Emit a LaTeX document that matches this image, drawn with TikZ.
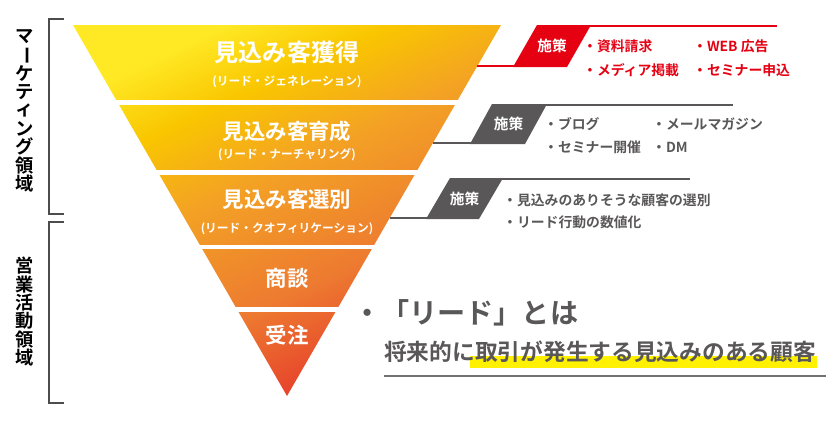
\documentclass[tikz,border=0pt]{standalone}
\usepackage{fontspec}
\setmainfont{Noto Sans CJK JP}[BoldFont={* Bold}]
\definecolor{fYellow}{HTML}{FFE925}
\definecolor{fGold}{HTML}{F9C600}
\definecolor{fAmber}{HTML}{F3A125}
\definecolor{fOrange}{HTML}{ED7A30}
\definecolor{fRed}{HTML}{E5332A}
\definecolor{sakuRed}{HTML}{E50012}
\definecolor{sakuGray}{HTML}{595757}
\definecolor{lineGray}{HTML}{727171}
\definecolor{markYellow}{HTML}{FFF100}
\pgfdeclareverticalshading{funnel}{100bp}{color(0bp)=(fRed); color(25bp)=(fRed); color(40bp)=(fOrange); color(55bp)=(fAmber); color(66bp)=(fGold); color(75bp)=(fYellow); color(100bp)=(fYellow)}
\begin{document}
\begin{tikzpicture}[x=0.03cm,y=-0.03cm]
\tikzstyle{stage}=[text=white,inner sep=0pt,font=\bfseries\fontsize{18.3}{20}\selectfont]
\tikzstyle{stagesub}=[text=white,inner sep=0pt,font=\bfseries\fontsize{10}{11}\selectfont]
\tikzstyle{tag}=[text=white,inner sep=0pt,font=\bfseries\fontsize{12.5}{14}\selectfont]
\tikzstyle{item}=[anchor=west,inner sep=0pt,font=\bfseries\fontsize{11.8}{13}\selectfont]
\tikzstyle{tate}=[inner sep=0pt,font=\bfseries\fontsize{15.6}{16}\selectfont]
\tikzset{bracket/.style = {draw=black!70,line width=0.9pt}}
\tikzset{tagline/.style = {line width=1.8pt}}
\useasboundingbox (0,0) rectangle (835,421);
% funnel
\shade[shading=funnel,shading angle=25] (73,25) -- (501,25) -- (287,396) -- cycle;
\foreach \ya/\yb in {100/105,170/175,245/249,307/312}
  \fill[white] (65,\ya) rectangle (510,\yb);
\node[stage,font=\bfseries\fontsize{20.5}{22}\selectfont] (s1) at (287,52) {見込み客獲得};
\node[stagesub] (s1sub) at (287,82) {(リード・ジェネレーション)};
\node[stage] (s2) at (287,131) {見込み客育成};
\node[stagesub] (s2sub) at (287,155) {(リード・ナーチャリング)};
\node[stage] (s3) at (287,199) {見込み客選別};
\node[stagesub] (s3sub) at (287,229) {(リード・クオフィリケーション)};
\node[stage] (s4) at (287,278) {商談};
\node[stage] (s5) at (287,335) {受注};
% brackets
\draw[bracket] (64,19) -- (49,19) -- (49,214) -- (64,214);
\draw[bracket] (64,222) -- (49,222) -- (49,403) -- (64,403);
\foreach \c/\r [count=\i] in {マ/0,ー/-90,ケ/0,テ/0,ィ/0,ン/0,グ/0,領/0,域/0}
  \node[tate,rotate=\r] (mk\i) at (25,{37+(\i-1)*18.3}) {\c};
\foreach \c [count=\i] in {営,業,活,動,領,域}
  \node[tate] (eg\i) at (25,{266+(\i-1)*18.3}) {\c};
% callout 1
\fill[sakuRed] (537,25) -- (591,25) -- (567,67) -- (513,67) -- cycle;
\coordinate (e1) at (477,65.8);
\coordinate (p1b) at (514,65.8);
\coordinate (p1t) at (590,25.9);
\coordinate (r1) at (777,25.9);
\draw[tagline,sakuRed] (e1) -- (p1b);
\draw[tagline,sakuRed] (p1t) -- (r1);
\node[tag] (tag1) at (552,46) {施策};
\node[item,text=sakuRed] (a1) at (583,46.5) {・資料請求};
\node[item,text=sakuRed] (a2) at (693,46.5) {・WEB 広告};
\node[item,text=sakuRed] (a3) at (583,70) {・メディア掲載};
\node[item,text=sakuRed] (a4) at (693,70) {・セミナー申込};
% callout 2
\fill[sakuGray] (492,104) -- (547,104) -- (525,144) -- (470,144) -- cycle;
\coordinate (e2) at (433,143);
\coordinate (p2b) at (471,143);
\coordinate (p2t) at (546,104.9);
\coordinate (r2) at (733,104.9);
\draw[tagline,sakuGray] (e2) -- (p2b);
\draw[tagline,sakuGray] (p2t) -- (r2);
\node[tag] (tag2) at (508.5,124) {施策};
\node[item,text=sakuGray] (b1) at (544,124) {・ブログ};
\node[item,text=sakuGray] (b2) at (652,124) {・メールマガジン};
\node[item,text=sakuGray] (b3) at (544,147) {・セミナー開催};
\node[item,text=sakuGray] (b4) at (652,147) {・DM};
% callout 3
\fill[sakuGray] (450,178) -- (503,178) -- (479,219) -- (426,219) -- cycle;
\coordinate (e3) at (390,218);
\coordinate (p3b) at (427,218);
\coordinate (p3t) at (502,178.9);
\coordinate (r3) at (690,178.9);
\draw[tagline,sakuGray] (e3) -- (p3b);
\draw[tagline,sakuGray] (p3t) -- (r3);
\node[tag] (tag3) at (464.5,198.5) {施策};
\node[item,text=sakuGray] (c1) at (503,200) {・見込みのありそうな顧客の選別};
\node[item,text=sakuGray] (c2) at (503,222) {・リード行動の数値化};
% lead
\node[anchor=west,inner sep=0pt,text=sakuGray,font=\bfseries\fontsize{24}{26}\selectfont] (lead) at (353,313) {・「リード」とは};
\fill[markYellow] (470,356) rectangle (817,368);
\node[anchor=west,inner sep=0pt,text=sakuGray,font=\bfseries\fontsize{19.4}{21}\selectfont] (leaddef) at (384,352) {将来的に取引が発生する見込みのある顧客};
\coordinate (u1) at (384,376);
\coordinate (u2) at (826,376);
\draw[lineGray,line width=1.6pt] (u1) -- (u2);
\end{tikzpicture}
\end{document}
